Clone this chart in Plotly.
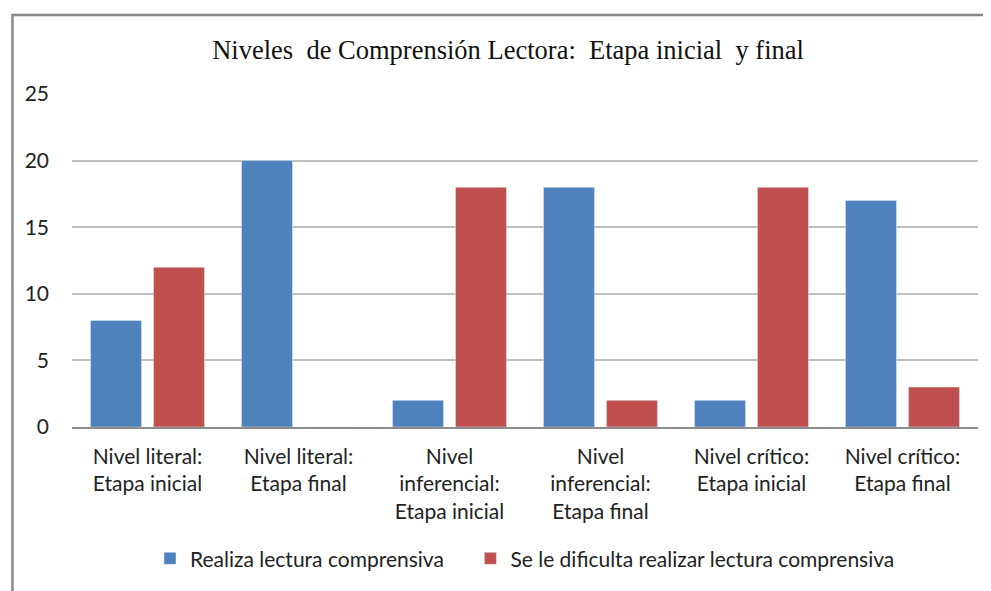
"""Niveles de comprensión lectora: bar chart."""

import plotly.graph_objects as go

categorias = [
    "Nivel literal:<br>Etapa inicial",
    "Nivel literal:<br>Etapa final",
    "Nivel<br>inferencial:<br>Etapa inicial",
    "Nivel<br>inferencial:<br>Etapa final",
    "Nivel crítico:<br>Etapa inicial",
    "Nivel crítico:<br>Etapa final",
]
realiza = [8, 20, 2, 18, 2, 17]
dificulta = [12, 0, 18, 2, 18, 3]
y_ticks = [0, 5, 10, 15, 20, 25]

titulo = "Niveles\u00a0 de Comprensión Lectora:\u00a0 Etapa inicial\u00a0 y final"

fig = go.Figure()

fig.add_trace(go.Bar(
    x=categorias,
    y=realiza,
    name="Realiza lectura comprensiva" + "\u00a0" * 4,
    marker=dict(color="#4F81BD"),
))
fig.add_trace(go.Bar(
    x=categorias,
    y=dificulta,
    name="Se le dificulta realizar lectura comprensiva",
    marker=dict(color="#C0504D"),
))

tick_font = dict(family="Lato, sans-serif", size=21, color="#222222")

# the page body adds an 8px offset, so the figure is 8px smaller
fig.update_layout(
    width=983,
    height=583,
    barmode="group",
    bargap=0.166,
    bargroupgap=0.19,
    plot_bgcolor="white",
    paper_bgcolor="white",
    margin=dict(l=64, r=13, t=86, b=164),
    title=dict(
        text=titulo,
        font=dict(family="Liberation Serif, Times New Roman, serif", size=26.5, color="#111111"),
        x=0.5087, xanchor="center", y=0.928, yanchor="middle",
    ),
    xaxis=dict(
        tickfont=tick_font,
        showgrid=False,
        showline=True,
        linecolor="#8c8c8c",
        linewidth=1.5,
        ticks="",
        ticklabelstandoff=10,
    ),
    yaxis=dict(
        range=[0, 25],
        tickvals=y_ticks,
        tickfont=tick_font,
        gridcolor="#bfbfbf",
        gridwidth=1.5,
        zeroline=False,
        ticklabelstandoff=22,
    ),
    legend=dict(
        orientation="h",
        x=0.5, xanchor="center",
        y=-0.334, yanchor="top",
        font=tick_font,
        itemwidth=30,
    ),
    showlegend=True,
    shapes=[dict(
        type="rect", xref="paper", yref="paper",
        x0=-0.0657, x1=1.2, y0=-1.0, y1=1.237,
        line=dict(color="#888888", width=2.5),
        fillcolor="rgba(0,0,0,0)",
        layer="above",
    )],
)

fig.write_html("out.html")
